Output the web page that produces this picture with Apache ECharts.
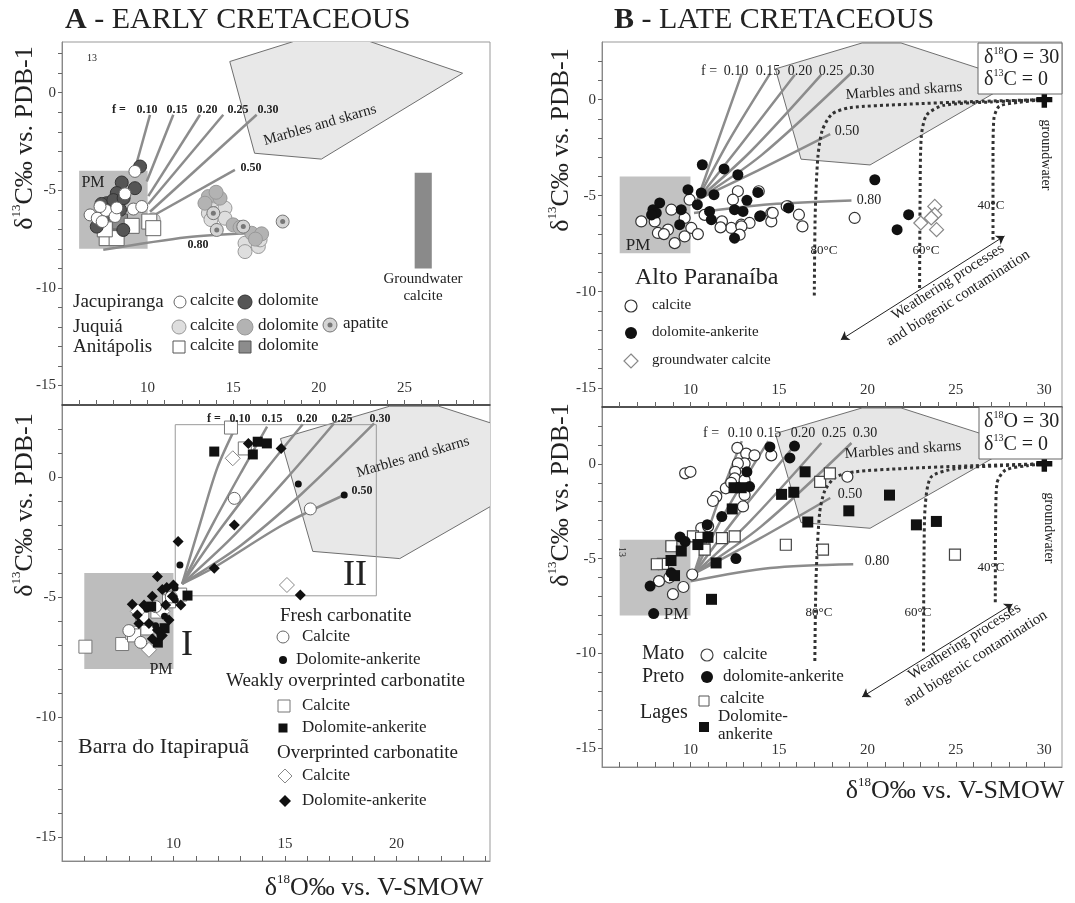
<!DOCTYPE html>
<html><head><meta charset="utf-8">
<script src="https://cdn.jsdelivr.net/npm/echarts@6/dist/echarts.min.js"></script>
<style>html,body{margin:0;padding:0;background:#fff;}#c{width:1075px;height:903px;}</style>
</head><body><div id="c"></div>
<script>
const FONT = '"Liberation Serif", "Times New Roman", serif';

// ---------------- axis ranges and tick labels ----------------
const aTopX = [5, 30], aTopY = [-16, 2.6];
const aBotX = [5, 24.2], aBotY = [-16, 3];
const bX = [5, 31], bY = [-16, 3];
const aTopXLabels = [10, 15, 20, 25];
const aBotXLabels = [10, 15, 20];
const bXLabels = [10, 15, 20, 25, 30];
const yLabels = [-15, -10, -5, 0];

// ---------------- shared shapes ----------------
const pmBox = [[6, -8], [10, -4]];
const marbles = [[14.8, 1.6], [19.7, 2.95], [21.9, 2.95], [28.4, 1.0], [20.15, -3.4], [16.25, -3.1]];
const gwCalciteBar = [[25.6, -9.0], [26.6, -4.1]];
const boxII = [[10.08, -4.95], [19.1, 2.18]];
const gwPoint = [[30, 0]];

// ---------------- A: Early Cretaceous (top) ----------------
const aJacCalcite = [[9.26,-4.03],[8.68,-5.18],[9.17,-5.96],[9.66,-5.83],[6.64,-6.26],[7.06,-6.43],[7.57,-6.03],[8.1,-6.34],[7.22,-5.83],[7.35,-6.6],[8.2,-5.9]];
const aJacDolomite = [[9.56,-3.78],[8.49,-4.6],[9.26,-4.89],[8.2,-5.14],[8.39,-6.0],[7.61,-5.66],[7.3,-5.7],[8.0,-5.5],[7.8,-6.17],[7.03,-6.86],[8.58,-7.03],[8.6,-5.4],[7.5,-6.3]];
const aJuqCalcite = [[13.84,-5.49],[14.52,-5.91],[14.52,-6.43],[15.69,-7.71],[15.69,-8.14],[16.47,-7.88],[16.57,-7.54],[10.33,-6.51],[13.55,-6.17],[14.0,-5.3],[13.7,-6.5]];
const aJuqDolomite = [[13.55,-5.32],[14.23,-5.4],[15.0,-6.77],[16.08,-7.2],[16.66,-7.23],[13.35,-5.66],[14.0,-5.1],[15.4,-6.9],[16.3,-7.5]];
const aJuqApatite = [[13.84,-6.17],[14.04,-7.03],[15.59,-6.86],[17.89,-6.6]];
const aAniCalcite = [[7.61,-7.45],[8.19,-7.45],[9.07,-6.82],[10.1,-6.6],[10.33,-6.94],[7.5,-7.0]];
const aAniDolomite = [[8.29,-6.94],[8.39,-6.6]];
const aTopF010 = [[9.36,-3.6],[10.14,-1.13]];
const aTopF015 = [[9.95,-4.55],[11.5,-1.13]];
const aTopF020 = [[10.04,-5.3],[13.06,-1.13]];
const aTopF025 = [[10.04,-5.7],[14.42,-1.13]];
const aTopF030 = [[10.14,-6.1],[16.37,-1.13]];
const aTopF050 = [[10.24,-6.34],[15.1,-3.95]];
const aTopF080 = [[7.41,-8.05],[12.3,-7.4],[15.8,-7.2]];

// ---------------- A: Barra do Itapirapua (bottom) ----------------
const aFreshCalcite = [[12.73,-0.89],[16.14,-1.33],[8.53,-6.89],[9.2,-5.4],[8.0,-6.4],[9.9,-5.0]];
const aFreshDolomite = [[15.6,-0.29],[17.66,-0.75],[10.29,-3.67],[10.08,-5.12],[10.07,-4.62],[9.6,-5.8],[9.2,-6.2],[8.8,-5.5],[9.4,-6.6]];
const aWeakCalcite = [[12.58,2.06],[13.2,1.19],[6.05,-7.07],[7.7,-6.96],[8.15,-6.49],[9.28,-5.61],[9.8,-5.18],[8.23,-6.6],[8.83,-6.31],[8.6,-5.9],[10.3,-4.9]];
const aWeakDolomite = [[11.83,1.06],[13.56,0.94],[13.78,1.47],[14.19,1.4],[10.63,-4.94],[9.3,-6.9],[9.0,-5.4],[9.6,-6.3]];
const aOverCalcite = [[12.66,0.78],[15.09,-4.5],[8.9,-7.2],[8.4,-5.6],[9.5,-5.6]];
const aOverDolomite = [[13.36,1.4],[14.83,1.19],[12.73,-2.0],[10.21,-2.69],[11.83,-3.8],[15.69,-4.92],[9.28,-4.15],[9.5,-4.69],[9.05,-4.97],[8.15,-5.3],[8.38,-5.75],[8.68,-5.33],[9.95,-4.97],[9.65,-5.33],[10.33,-5.33],[8.9,-6.1],[9.28,-6.38],[9.8,-5.96],[9.5,-6.6],[9.05,-6.74],[8.45,-6.1],[10.0,-4.5],[9.7,-4.6]];
const aBotF010 = [[10.39,-4.45],[11.22,-1.86],[11.97,0.39],[12.8,2.1]];
const aBotF015 = [[10.39,-4.45],[11.82,-1.86],[13.1,0.3],[14.2,2.1]];
const aBotF020 = [[10.39,-4.45],[12.12,-2.15],[14.22,0.39],[15.8,2.2]];
const aBotF025 = [[10.39,-4.45],[12.57,-2.57],[14.97,-0.17],[17.2,2.23]];
const aBotF030 = [[10.39,-4.45],[13.02,-2.85],[15.72,-0.73],[19.0,2.23]];
const aBotF050 = [[10.39,-4.45],[11.82,-3.77],[14.9,-2.0],[17.66,-0.75]];

// ---------------- B: Alto Paranaiba (top) ----------------
const bApCalcite = [[7.22,-6.34],[7.98,-6.34],[8.73,-6.77],[8.16,-6.94],[9.11,-7.47],[8.92,-5.73],[9.67,-6.16],[10.05,-6.68],[9.67,-7.12],[10.42,-7.0],[9.95,-5.21],[11.78,-6.34],[12.31,-6.68],[12.87,-6.51],[13.34,-6.42],[12.68,-4.77],[12.4,-5.21],[13.86,-4.77],[14.57,-5.9],[14.57,-6.34],[15.52,-5.56],[11.7,-6.65],[16.33,-6.6],[16.13,-5.99],[15.44,-5.55],[14.65,-5.9],[12.88,-6.6],[12.78,-7.03],[19.28,-6.16],[8.5,-7.0],[10.8,-6.0]];
const bApDolomite = [[10.67,-3.39],[11.9,-3.61],[12.68,-3.91],[9.86,-4.69],[10.61,-4.86],[11.33,-4.95],[13.81,-4.83],[13.19,-5.24],[12.49,-5.73],[12.97,-5.82],[13.91,-6.08],[11.08,-5.82],[11.18,-6.25],[10.39,-5.47],[9.48,-5.73],[9.39,-6.51],[8.26,-5.38],[7.88,-5.73],[8.07,-5.9],[12.49,-7.21],[15.54,-5.64],[20.42,-4.17],[22.33,-5.99],[21.68,-6.77],[13.96,-6.04],[7.8,-6.0]];
const bApGwCalcite = [[23.02,-6.42],[23.81,-5.56],[23.81,-5.99],[23.61,-6.16],[23.91,-6.77]];
const bTopF010 = [[10.4,-5.2],[11.65,-1.9],[12.9,1.35]];
const bTopF015 = [[10.4,-5.2],[12.2,-2.1],[14.5,1.35]];
const bTopF020 = [[10.4,-5.2],[12.8,-2.4],[15.9,1.3]];
const bTopF025 = [[10.4,-5.2],[13.4,-2.7],[17.4,1.3]];
const bTopF030 = [[10.4,-5.2],[14.0,-2.9],[19.1,1.4]];
const bTopF050 = [[10.4,-5.2],[13.8,-3.7],[17.9,-1.8]];
const bTopF080 = [[10.2,-5.9],[14.5,-5.45],[19.1,-5.25]];
const bTop80C = [[17.0,-10.2],[17.05,-6],[17.2,-3.0],[17.45,-1.6],[18.0,-0.75],[19.0,-0.42],[22,-0.25],[26,-0.1],[30,0]];
const bTop60C = [[22.95,-9.8],[22.98,-5],[23.05,-1.9],[23.35,-0.8],[24.3,-0.3],[27,-0.12],[30,0]];
const bTop40C = [[27.1,-7.3],[27.1,-3],[27.15,-1.0],[27.45,-0.35],[28.5,-0.15],[30,0]];
const bTopArrow = [[18.5,-12.5],[27.75,-7.1]];

// ---------------- B: Mato Preto / Lages (bottom) ----------------
const bMpCalcite = [[12.65,0.84],[13.15,0.54],[13.62,0.45],[13.06,0.02],[12.68,0.02],[12.53,-0.42],[12.5,-0.77],[13.06,-0.86],[9.7,-0.5],[10.0,-0.42],[12.0,-1.29],[11.46,-1.73],[11.27,-1.96],[13.06,-1.64],[12.97,-2.25],[10.61,-3.39],[10.1,-5.84],[14.57,0.45],[18.87,-0.68],[9.6,-6.5],[8.22,-6.19],[9.01,-6.88],[8.81,-6.0],[8.2,-5.3],[11.0,-3.3],[12.3,-1.0]];
const bMpDolomite = [[14.49,0.89],[15.62,0.31],[15.88,0.94],[13.19,-0.42],[13.34,-1.2],[11.77,-2.78],[10.95,-3.21],[9.41,-3.86],[12.57,-5.0],[7.92,-7.9],[7.72,-6.45],[8.91,-5.75],[9.7,-4.1]];
const bLgCalcite = [[10.14,-3.83],[11.78,-3.92],[12.5,-3.83],[10.8,-4.53],[8.92,-4.35],[8.45,-5.28],[15.39,-4.27],[17.33,-0.95],[17.88,-0.5],[17.49,-4.53],[24.95,-4.79],[8.1,-5.3],[10.6,-3.9]];
const bLgDolomite = [[12.46,-1.26],[12.87,-1.26],[12.36,-2.38],[10.99,-3.88],[15.15,-1.61],[15.84,-1.5],[11.45,-5.23],[9.48,-4.6],[10.42,-4.26],[16.48,-0.42],[16.63,-3.07],[18.95,-2.48],[21.25,-1.65],[22.77,-3.22],[23.9,-3.04],[11.19,-7.15],[8.9,-5.1],[9.1,-5.9]];
const bBotF010 = [[10.2,-5.8],[11.45,-2.3],[12.9,1.2]];
const bBotF015 = [[10.2,-5.8],[12.0,-2.5],[14.4,1.2]];
const bBotF020 = [[10.2,-5.8],[12.6,-2.8],[16.0,1.1]];
const bBotF025 = [[10.2,-5.8],[13.3,-3.1],[17.4,1.1]];
const bBotF030 = [[10.2,-5.8],[14.0,-3.3],[19.1,1.1]];
const bBotF050 = [[10.2,-5.8],[13.8,-4.0],[17.9,-1.8]];
const bBotF080 = [[10.0,-6.2],[14.5,-5.5],[19.2,-5.3]];
const bBot80C = [[17.03,-10.4],[17.1,-6],[17.3,-2.6],[17.6,-1.4],[18.2,-0.7],[19.3,-0.42],[22,-0.25],[26,-0.1],[30,0]];
const bBot60C = [[23.17,-9.9],[23.2,-5],[23.27,-2.2],[23.6,-0.7],[25,-0.25],[27.5,-0.1],[30,0]];
const bBot40C = [[27.23,-7.3],[27.25,-3],[27.33,-1.0],[27.8,-0.33],[29,-0.1],[30,0]];
const bBotArrow = [[19.7,-12.3],[28.2,-7.4]];

// ---------------- helpers ----------------
function range(a, b) { const r = []; for (let i = a; i <= b; i++) r.push(i); return r; }
function rectPts(r) { return [[r[0][0], r[0][1]], [r[1][0], r[0][1]], [r[1][0], r[1][1]], [r[0][0], r[1][1]]]; }
function poly(gi, pts, fill, stroke, lw, z) {
  return {
    type: 'custom', xAxisIndex: gi, yAxisIndex: gi, clip: true, silent: true, z: z || 1,
    data: [[pts[0][0], pts[0][1]]],
    renderItem: function (params, api) {
      const cs = params.coordSys;
      return {
        type: 'polygon',
        shape: { points: pts.map(p => api.coord(p)) },
        style: { fill: fill || 'none', stroke: stroke || 'none', lineWidth: lw || 1 },
        clipPath: { type: 'rect', shape: { x: cs.x, y: cs.y, width: cs.width, height: cs.height } }
      };
    }
  };
}
function curve(gi, pts, color, width, type, smooth, z) {
  return { type: 'line', xAxisIndex: gi, yAxisIndex: gi, data: pts, symbol: 'none', showSymbol: false,
    smooth: smooth, silent: true, z: z || 2, lineStyle: { color: color, width: width, type: type || 'solid' } };
}
function sc(gi, pts, symbol, size, fill, border, bw, z) {
  return { type: 'scatter', xAxisIndex: gi, yAxisIndex: gi, data: pts, symbol: symbol, symbolSize: size,
    silent: true, z: z || 4, itemStyle: { color: fill, borderColor: border, borderWidth: bw || 0, opacity: 1 } };
}
function arrow(gi, pts) {
  return { type: 'lines', coordinateSystem: 'cartesian2d', xAxisIndex: gi, yAxisIndex: gi, silent: true, z: 3,
    symbol: ['arrow', 'arrow'], symbolSize: 8, data: [{ coords: pts }],
    lineStyle: { color: '#222', width: 1, opacity: 1, curveness: 0 } };
}
function xAx(gi, rng, labels, ticks, lc, lw) {
  return { type: 'value', gridIndex: gi, min: rng[0], max: rng[1], position: 'bottom',
    axisLine: { show: true, onZero: false, lineStyle: { color: lc, width: lw } },
    axisTick: { show: true, inside: true, length: 5, customValues: ticks, lineStyle: { color: '#666', width: 1 } },
    axisLabel: { show: true, inside: true, margin: 9, customValues: labels, fontFamily: FONT, fontSize: 15, color: '#333' },
    splitLine: { show: false } };
}
function yAx(gi, rng, labels, ticks) {
  return { type: 'value', gridIndex: gi, min: rng[0], max: rng[1], position: 'left',
    axisLine: { show: true, onZero: false, lineStyle: { color: '#888', width: 1 } },
    axisTick: { show: true, inside: false, length: 4, customValues: ticks, lineStyle: { color: '#666', width: 1 } },
    axisLabel: { show: true, margin: 6, customValues: labels, fontFamily: FONT, fontSize: 15, color: '#333' },
    splitLine: { show: false } };
}
function T(x, y, text, size, o) {
  o = o || {};
  const st = { text: text, fontSize: size, fontFamily: FONT, fontWeight: o.bold ? 'bold' : 'normal',
    fill: o.color || '#222', align: o.align || 'center', verticalAlign: 'middle' };
  if (o.lh) st.lineHeight = o.lh;
  if (o.rich) st.rich = o.rich;
  return { type: 'text', x: x, y: y, rotation: o.rot || 0, z: 100, silent: true, style: st };
}
function supRich(size) {
  return { m: { fontSize: size, fontFamily: FONT, fill: '#222', lineHeight: Math.round(size * 1.15) },
           s: { fontSize: Math.round(size * 0.5), fontFamily: FONT, fill: '#222', lineHeight: Math.round(size * 0.55), verticalAlign: 'top' },
           b: { fontSize: size, fontFamily: FONT, fill: '#222', fontWeight: 'bold', lineHeight: Math.round(size * 1.15) } };
}
function Cg(cx, cy, r, fill, stroke, lw) { return { type: 'circle', z: 100, silent: true, shape: { cx: cx, cy: cy, r: r }, style: { fill: fill, stroke: stroke || 'none', lineWidth: lw || 1 } }; }
function Rg(cx, cy, s, fill, stroke, lw) { return { type: 'rect', z: 100, silent: true, shape: { x: cx - s / 2, y: cy - s / 2, width: s, height: s }, style: { fill: fill, stroke: stroke || 'none', lineWidth: lw || 1 } }; }
function Dg(cx, cy, r, fill, stroke, lw) { return { type: 'polygon', z: 100, silent: true, shape: { points: [[cx, cy - r], [cx + r, cy], [cx, cy + r], [cx - r, cy]] }, style: { fill: fill, stroke: stroke || 'none', lineWidth: lw || 1 } }; }

const PLUS = 'path://M3.3,0H6.7V3.3H10V6.7H6.7V10H3.3V6.7H0V3.3H3.3Z';
const FL = '#8c8c8c', FW = 2.5;

// ---------------- series ----------------
const series = [];
// A top (grid 0)
series.push(poly(0, rectPts(pmBox), '#bdbdbd', null, 0, 1));
series.push(poly(0, marbles, '#e8e8e8', '#6f6f6f', 1, 1));
series.push(poly(0, rectPts(gwCalciteBar), '#8a8a8a', null, 0, 1));
[aTopF010, aTopF015, aTopF020, aTopF025, aTopF030, aTopF050].forEach(p => series.push(curve(0, p, FL, FW, 'solid', false)));
series.push(curve(0, aTopF080, FL, FW, 'solid', 0.3));
series.push(sc(0, aJuqCalcite, 'circle', 14, '#dedede', '#9a9a9a', 1));
series.push(sc(0, aJuqDolomite, 'circle', 14, '#b3b3b3', '#999', 1));
series.push(sc(0, aJuqApatite, 'circle', 13, '#d4d4d4', '#777', 1));
series.push(sc(0, aJuqApatite, 'circle', 5, '#777', '#777', 0, 5));
series.push(sc(0, aAniDolomite, 'rect', 15, '#8c8c8c', '#555', 1));
series.push(sc(0, aAniCalcite, 'rect', 15, '#ffffff', '#666', 1));
series.push(sc(0, aJacDolomite, 'circle', 13, '#555555', '#333', 1));
series.push(sc(0, aJacCalcite, 'circle', 12, '#ffffff', '#666', 1, 5));

// A bottom (grid 1)
series.push(poly(1, rectPts(pmBox), '#bdbdbd', null, 0, 1));
series.push(poly(1, marbles, '#e8e8e8', '#6f6f6f', 1, 1));
series.push(poly(1, rectPts(boxII), 'none', '#9a9a9a', 1, 1));
[aBotF010, aBotF015, aBotF020, aBotF025, aBotF030, aBotF050].forEach(p => series.push(curve(1, p, FL, FW, 'solid', 0.3)));
series.push(sc(1, aWeakCalcite, 'rect', 13, '#ffffff', '#777', 1));
series.push(sc(1, aOverCalcite, 'diamond', 15, '#ffffff', '#888', 1));
series.push(sc(1, aFreshCalcite, 'circle', 12, '#ffffff', '#666', 1));
series.push(sc(1, aWeakDolomite, 'rect', 10, '#111', '#111', 0, 5));
series.push(sc(1, aOverDolomite, 'diamond', 11, '#111', '#111', 0, 5));
series.push(sc(1, aFreshDolomite, 'circle', 7, '#111', '#111', 0, 5));

// B top (grid 2)
series.push(poly(2, rectPts(pmBox), '#c2c2c2', null, 0, 1));
series.push(poly(2, marbles, '#e6e6e6', '#6f6f6f', 1, 1));
[bTopF010, bTopF015, bTopF020, bTopF025, bTopF030, bTopF050, bTopF080].forEach(p => series.push(curve(2, p, FL, FW, 'solid', 0.3)));
[bTop80C, bTop60C, bTop40C].forEach(p => series.push(curve(2, p, '#333', 3, 'dotted', 0.25, 3)));
series.push(arrow(2, bTopArrow));
series.push(sc(2, bApCalcite, 'circle', 11, '#ffffff', '#333', 1.2));
series.push(sc(2, bApDolomite, 'circle', 11, '#111', '#111', 0, 5));
series.push(sc(2, bApGwCalcite, 'diamond', 14, '#ffffff', '#888', 1.2));
series.push(sc(2, gwPoint, PLUS, 16, '#111', '#111', 0, 6));

// B bottom (grid 3)
series.push(poly(3, rectPts(pmBox), '#c2c2c2', null, 0, 1));
series.push(poly(3, marbles, '#e6e6e6', '#6f6f6f', 1, 1));
[bBotF010, bBotF015, bBotF020, bBotF025, bBotF030, bBotF050, bBotF080].forEach(p => series.push(curve(3, p, FL, FW, 'solid', 0.3)));
[bBot80C, bBot60C, bBot40C].forEach(p => series.push(curve(3, p, '#333', 3, 'dotted', 0.25, 3)));
series.push(arrow(3, bBotArrow));
series.push(sc(3, bMpCalcite, 'circle', 11, '#ffffff', '#333', 1.2));
series.push(sc(3, bLgCalcite, 'rect', 11, '#ffffff', '#444', 1.2));
series.push(sc(3, bMpDolomite, 'circle', 11, '#111', '#111', 0, 5));
series.push(sc(3, bLgDolomite, 'rect', 11, '#111', '#111', 0, 5));
series.push(sc(3, gwPoint, PLUS, 16, '#111', '#111', 0, 6));

// ---------------- text & legend graphics ----------------
const R26 = supRich(26), R20 = supRich(20), R30 = supRich(30);
const yTitle = '{m|δ}{s|13}{m|C‰ vs. PDB-1}';
const xTitle = '{m|δ}{s|18}{m|O‰ vs. V-SMOW}';
const g = [];
// titles
g.push(T(65, 20, '{b|A}{m| - EARLY CRETACEOUS}', 30, { align: 'left', rich: R30 }));
g.push(T(614, 20, '{b|B}{m| - LATE CRETACEOUS}', 30, { align: 'left', rich: R30 }));
// axis titles
g.push(T(25, 138, yTitle, 26, { rot: Math.PI / 2, rich: R26 }));
g.push(T(25, 505, yTitle, 26, { rot: Math.PI / 2, rich: R26 }));
g.push(T(561, 140, yTitle, 26, { rot: Math.PI / 2, rich: R26 }));
g.push(T(561, 495, yTitle, 26, { rot: Math.PI / 2, rich: R26 }));
g.push(T(374, 888, xTitle, 26, { rich: R26 }));
g.push(T(955, 791, xTitle, 26, { rich: R26 }));

// A top annotations
g.push(T(92, 58, '13', 10));
[['f =', 119], ['0.10', 147], ['0.15', 177], ['0.20', 207], ['0.25', 238], ['0.30', 268]].forEach(a => g.push(T(a[1], 110, a[0], 12, { bold: true })));
g.push(T(251, 168, '0.50', 12, { bold: true }));
g.push(T(198, 245, '0.80', 12, { bold: true }));
g.push(T(93, 183, 'PM', 16));
g.push(T(320, 125, 'Marbles and skarns', 15, { rot: 0.28 }));
g.push(T(423, 279, 'Groundwater', 15));
g.push(T(423, 296, 'calcite', 15));
g.push(T(73, 302, 'Jacupiranga', 19, { align: 'left' }));
g.push(T(73, 327, 'Juquiá', 19, { align: 'left' }));
g.push(T(73, 347, 'Anitápolis', 19, { align: 'left' }));
g.push(Cg(180, 302, 6, '#fff', '#666', 1)); g.push(T(190, 301, 'calcite', 17, { align: 'left' }));
g.push(Cg(245, 302, 7, '#555', '#333', 1)); g.push(T(258, 301, 'dolomite', 17, { align: 'left' }));
g.push(Cg(179, 327, 7, '#dedede', '#999', 1)); g.push(T(190, 326, 'calcite', 17, { align: 'left' }));
g.push(Cg(245, 327, 8, '#b3b3b3', '#999', 1)); g.push(T(258, 326, 'dolomite', 17, { align: 'left' }));
g.push(Cg(330, 325, 7, '#d4d4d4', '#777', 1)); g.push(Cg(330, 325, 2.5, '#777')); g.push(T(343, 324, 'apatite', 17, { align: 'left' }));
g.push(Rg(179, 347, 12, '#fff', '#555', 1)); g.push(T(190, 346, 'calcite', 17, { align: 'left' }));
g.push(Rg(245, 347, 12, '#8c8c8c', '#555', 1)); g.push(T(258, 346, 'dolomite', 17, { align: 'left' }));

// A bottom annotations
[['f =', 214], ['0.10', 240], ['0.15', 272], ['0.20', 307], ['0.25', 342], ['0.30', 380]].forEach(a => g.push(T(a[1], 419, a[0], 12, { bold: true })));
g.push(T(362, 491, '0.50', 12, { bold: true }));
g.push(T(413, 457, 'Marbles and skarns', 15, { rot: 0.28 }));
g.push(T(355, 576, 'II', 36));
g.push(T(187, 646, 'I', 36));
g.push(T(161, 670, 'PM', 16));
g.push(T(280, 616, 'Fresh carbonatite', 19, { align: 'left' }));
g.push(Cg(283, 637, 6, '#fff', '#666', 1)); g.push(T(302, 637, 'Calcite', 17, { align: 'left' }));
g.push(Cg(283, 660, 4, '#111')); g.push(T(296, 660, 'Dolomite-ankerite', 17, { align: 'left' }));
g.push(T(226, 681, 'Weakly overprinted carbonatite', 19, { align: 'left' }));
g.push(Rg(284, 706, 12, '#fff', '#777', 1)); g.push(T(302, 706, 'Calcite', 17, { align: 'left' }));
g.push(Rg(283, 728, 9, '#111')); g.push(T(302, 728, 'Dolomite-ankerite', 17, { align: 'left' }));
g.push(T(277, 753, 'Overprinted carbonatite', 19, { align: 'left' }));
g.push(Dg(285, 776, 7, '#fff', '#888', 1)); g.push(T(302, 776, 'Calcite', 17, { align: 'left' }));
g.push(Dg(285, 801, 6, '#111')); g.push(T(302, 801, 'Dolomite-ankerite', 17, { align: 'left' }));
g.push(T(78, 747, 'Barra do Itapirapuã', 22, { align: 'left' }));

// B top annotations
[['f =', 709], ['0.10', 736], ['0.15', 768], ['0.20', 800], ['0.25', 831], ['0.30', 862]].forEach(a => g.push(T(a[1], 71, a[0], 14)));
g.push(T(847, 131, '0.50', 14));
g.push(T(869, 200, '0.80', 14));
g.push(T(904, 91, 'Marbles and skarns', 15, { rot: 0.07 }));
g.push(T(638, 246, 'PM', 17));
g.push(T(824, 251, '80°C', 13)); g.push(T(926, 251, '60°C', 13)); g.push(T(991, 206, '40°C', 13));
g.push(T(1046, 155, 'groundwater', 14, { rot: -Math.PI / 2 }));
g.push(T(953, 290, 'Weathering processes\nand biogenic contamination', 15, { rot: 0.565, lh: 19 }));
g.push(T(635, 278, 'Alto Paranaíba', 24, { align: 'left' }));
g.push(Cg(631, 306, 6, '#fff', '#333', 1.2)); g.push(T(652, 305, 'calcite', 15, { align: 'left' }));
g.push(Cg(631, 333, 6, '#111')); g.push(T(652, 332, 'dolomite-ankerite', 15, { align: 'left' }));
g.push(Dg(631, 361, 7, '#fff', '#888', 1.2)); g.push(T(652, 360, 'groundwater calcite', 15, { align: 'left' }));
g.push({ type: 'rect', z: 99, silent: true, shape: { x: 978, y: 43, width: 84, height: 51 }, style: { fill: '#fff', stroke: '#666', lineWidth: 1 } });
g.push(T(984, 58, '{m|δ}{s|18}{m|O = 30}', 20, { align: 'left', rich: R20 }));
g.push(T(984, 80, '{m|δ}{s|13}{m|C = 0}', 20, { align: 'left', rich: R20 }));

// B bottom annotations
[['f =', 711], ['0.10', 740], ['0.15', 769], ['0.20', 803], ['0.25', 834], ['0.30', 865]].forEach(a => g.push(T(a[1], 433, a[0], 14)));
g.push(T(850, 494, '0.50', 14));
g.push(T(877, 561, '0.80', 14));
g.push(T(903, 450, 'Marbles and skarns', 15, { rot: 0.07 }));
g.push(T(676, 615, 'PM', 17));
g.push(T(819, 613, '80°C', 13)); g.push(T(918, 613, '60°C', 13)); g.push(T(991, 568, '40°C', 13));
g.push(T(1049, 528, 'groundwater', 14, { rot: -Math.PI / 2 }));
g.push(T(622, 552, '13', 10, { rot: -Math.PI / 2 }));
g.push(T(970, 650, 'Weathering processes\nand biogenic contamination', 15, { rot: 0.565, lh: 20 }));
g.push({ type: 'rect', z: 99, silent: true, shape: { x: 979, y: 407, width: 83, height: 52 }, style: { fill: '#fff', stroke: '#666', lineWidth: 1 } });
g.push(T(984, 422, '{m|δ}{s|18}{m|O = 30}', 20, { align: 'left', rich: R20 }));
g.push(T(984, 445, '{m|δ}{s|13}{m|C = 0}', 20, { align: 'left', rich: R20 }));
g.push(T(642, 654, 'Mato', 20, { align: 'left' }));
g.push(T(642, 677, 'Preto', 20, { align: 'left' }));
g.push(T(640, 713, 'Lages', 20, { align: 'left' }));
g.push(Cg(707, 655, 6, '#fff', '#444', 1.2)); g.push(T(723, 655, 'calcite', 17, { align: 'left' }));
g.push(Cg(707, 677, 6, '#111')); g.push(T(723, 677, 'dolomite-ankerite', 17, { align: 'left' }));
g.push(Rg(704, 701, 10, '#fff', '#555', 1)); g.push(T(720, 699, 'calcite', 17, { align: 'left' }));
g.push(Rg(704, 727, 10, '#111')); g.push(T(718, 717, 'Dolomite-', 17, { align: 'left' }));
g.push(T(718, 735, 'ankerite', 17, { align: 'left' }));

// ---------------- chart ----------------
const gridBase = { show: true, borderColor: '#999', borderWidth: 1, backgroundColor: 'rgba(0,0,0,0)', containLabel: false, outerBoundsMode: 'none' };
const option = {
  animation: false,
  backgroundColor: '#ffffff',
  grid: [
    Object.assign({ left: 62, top: 42, width: 428, height: 363 }, gridBase),
    Object.assign({ left: 62, top: 405, width: 428, height: 456 }, gridBase),
    Object.assign({ left: 602, top: 42, width: 460, height: 365 }, gridBase),
    Object.assign({ left: 602, top: 407, width: 460, height: 360 }, gridBase)
  ],
  xAxis: [
    xAx(0, aTopX, aTopXLabels, range(6, 29), '#333', 1.5),
    xAx(1, aBotX, aBotXLabels, range(6, 24), '#888', 1),
    xAx(2, bX, bXLabels, range(6, 30), '#333', 1.5),
    xAx(3, bX, bXLabels, range(6, 30), '#888', 1)
  ],
  yAxis: [
    yAx(0, aTopY, yLabels, range(-15, 2)),
    yAx(1, aBotY, yLabels, range(-15, 2)),
    yAx(2, bY, yLabels, range(-15, 2)),
    yAx(3, bY, yLabels, range(-15, 2))
  ],
  series: series,
  graphic: { elements: g }
};
const chart = echarts.init(document.getElementById('c'), null, { renderer: 'canvas' });
chart.setOption(option);
</script>
</body></html>
